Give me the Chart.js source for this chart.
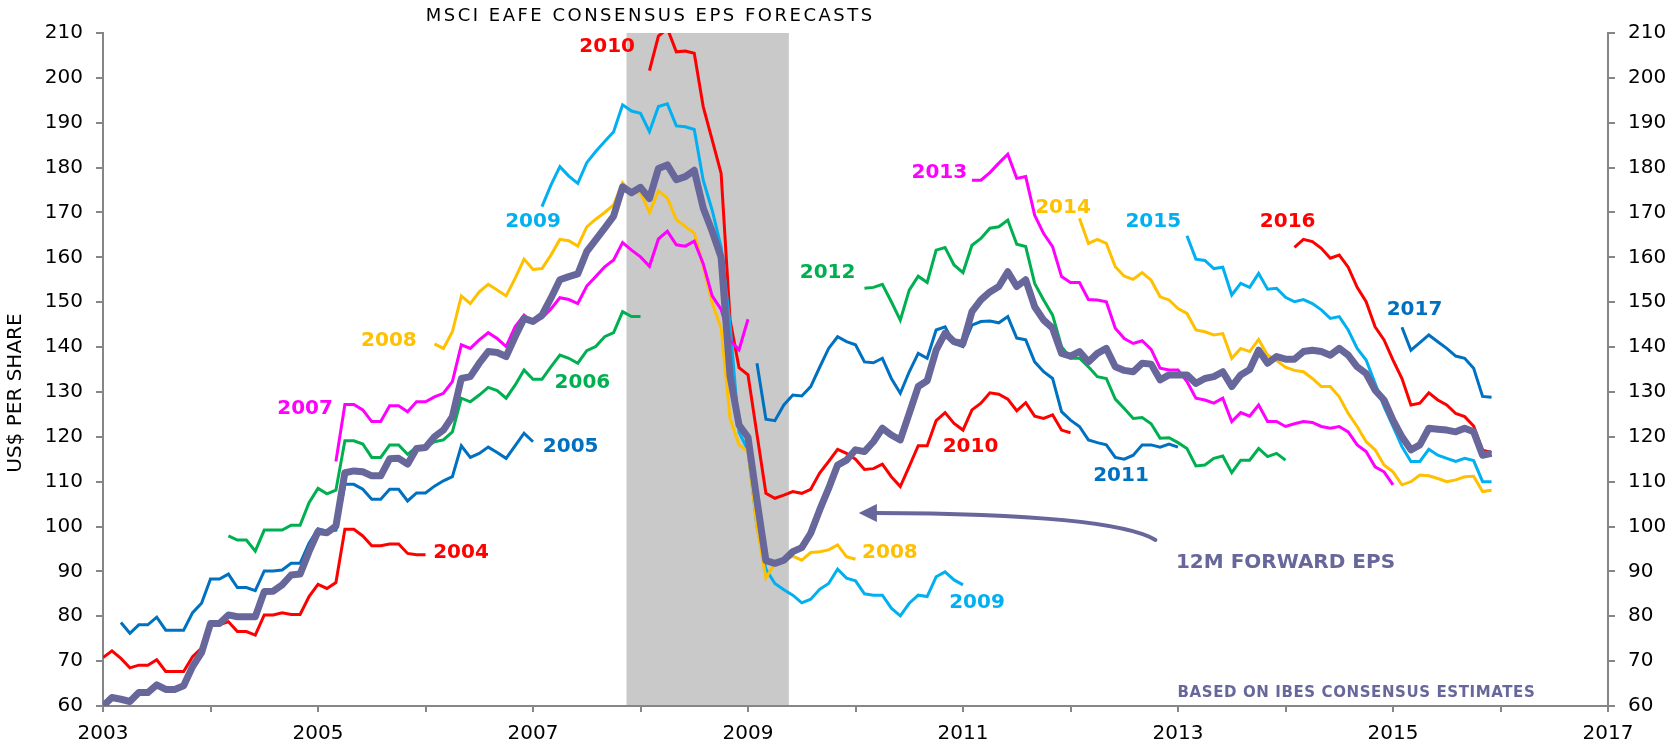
<!DOCTYPE html>
<html>
<head>
<meta charset="utf-8">
<script src="https://cdn.jsdelivr.net/npm/chart.js@4.4.0/dist/chart.umd.min.js"></script>
<style>
  body { margin: 0; background: #fff; }
  #wrap { width: 1675px; height: 747px; }
</style>
</head>
<body>
<div id="wrap"><canvas id="epsChart" width="1675" height="747"></canvas></div>
<script>
// monthly readings, each series starts at [year, month]
const fwdStart = [2003, 1];
const fwd12m = [
    60.0, 61.9, 61.5, 61.0, 63.0, 63.0, 64.7, 63.7, 63.7, 64.5, 68.8, 71.9,
    78.4, 78.4, 80.3, 79.9, 79.9, 79.9, 85.5, 85.6, 87.0, 89.2, 89.4, 94.4,
    98.9, 98.6, 100.1, 112.0, 112.4, 112.2, 111.3, 111.3, 115.1, 115.2, 113.9, 117.4,
    117.6, 120.0, 121.5, 124.5, 133.0, 133.4, 136.4, 139.0, 138.8, 137.9, 142.3, 146.4,
    145.7, 147.1, 150.9, 155.0, 155.7, 156.3, 161.3, 163.9, 166.5, 169.2, 175.7, 174.4,
    175.6, 173.1, 179.8, 180.6, 177.3, 178.0, 179.4, 171.0, 165.8, 160.0, 133.5, 122.6,
    119.9, 105.8, 92.4, 91.8, 92.5, 94.4, 95.3, 98.5, 103.7, 108.5, 113.7, 114.8,
    117.1, 116.7, 118.9, 121.9, 120.4, 119.3, 125.2, 131.2, 132.5, 139.3, 143.1, 141.2,
    140.8, 147.9, 150.5, 152.3, 153.5, 156.8, 153.5, 155.0, 149.0, 146.0, 144.2, 138.6,
    138.0, 139.0, 136.7, 138.6, 139.7, 135.6, 134.8, 134.5, 136.4, 136.2, 132.7, 133.8,
    133.8, 133.8, 131.9, 133.0, 133.4, 134.5, 131.2, 133.8, 135.0, 139.3, 136.4, 137.9,
    137.3, 137.3, 139.0, 139.3, 139.0, 138.2, 139.7, 138.2, 135.6, 134.1, 130.4, 128.2,
    123.7, 120.0, 117.1, 118.2, 121.9, 121.7, 121.5, 121.1, 121.9, 121.1, 115.9, 116.3
];

const fc2004Start = [2003, 1];
const fc2004 = [70.8, 72.3, 70.6, 68.5, 69.1, 69.1, 70.3, 67.7, 67.7, 67.7, 71.0, 72.9,
    78.1, 78.1, 78.8, 76.6, 76.6, 75.8, 80.3, 80.3, 80.8, 80.4, 80.4, 84.4,
    87.1, 86.2, 87.5, 99.4, 99.4, 97.9, 95.7, 95.7, 96.1, 96.1, 94.0, 93.7, 93.7];

const fc2005Start = [2003, 3];
const fc2005 = [78.6, 76.2, 78.1, 78.1, 79.8, 76.9, 76.9, 76.9, 80.8, 82.9,
    88.3, 88.3, 89.4, 86.4, 86.4, 85.7, 90.1, 90.1, 90.3, 91.8, 91.8, 96.3,
    99.5, 98.9, 99.2, 109.4, 109.4, 108.3, 106.1, 106.1, 108.3, 108.3, 105.7, 107.5,
    107.5, 109.0, 110.2, 111.1, 118.0, 115.4, 116.3, 117.7, 116.5, 115.2, 118.0, 120.8, 118.9];

const fc2006Start = [2004, 3];
const fc2006 = [97.9, 97.0, 97.0, 94.5, 99.2, 99.2, 99.2, 100.3, 100.3, 105.3,
    108.5, 107.3, 108.1, 119.1, 119.1, 118.4, 115.4, 115.4, 118.2, 118.2,
    116.1, 117.7, 117.7, 118.9, 119.3, 121.1, 128.6, 127.8, 129.3, 131.0,
    130.3, 128.6, 131.5, 134.9, 132.8, 132.8, 135.6, 138.2, 137.5, 136.4,
    139.2, 140.1, 142.3, 143.2, 147.9, 146.8, 146.8];

const fc2007Start = [2005, 3];
const fc2007 = [114.5, 127.2, 127.2, 126.0, 123.4, 123.4, 126.9, 126.9, 125.6, 127.8,
    127.8, 128.9, 129.7, 132.3, 140.5, 139.7, 141.6, 143.2, 141.9, 140.1,
    144.5, 147.1, 145.5, 146.5, 148.5, 151.0, 150.6, 149.7, 153.6, 155.7,
    157.9, 159.4, 163.3, 161.6, 160.1, 158.0, 164.1, 165.8, 162.8, 162.5,
    163.6, 158.6, 151.4, 148.4, 141.5, 139.4, 146.2];

const fc2008Start = [2006, 2];
const fc2008 = [140.7, 139.7, 143.4, 151.4, 149.7, 152.3, 154.0, 152.7, 151.4, 155.3,
    159.6, 157.3, 157.5, 160.5, 164.0, 163.7, 162.5, 166.8, 168.5, 170.0,
    171.7, 176.6, 174.4, 174.4, 170.0, 174.8, 173.2, 168.4, 166.9, 165.4,
    158.0, 149.8, 144.2, 124.1, 118.2, 116.7, 100.0, 88.5, 91.8, 92.5,
    93.4, 92.5, 94.2, 94.4, 94.8, 95.9, 93.3, 92.7];

const fc2009Start = [2007, 2];
const fc2009 = [171.3, 176.1, 180.2, 178.1, 176.5, 181.1, 183.6, 185.8, 188.0, 194.0,
    192.6, 192.1, 188.0, 193.6, 194.2, 189.3, 189.1, 188.5, 177.2, 170.5,
    162.3, 145.0, 121.0, 117.0, 100.0, 90.5, 87.3, 85.9, 84.7, 83.0,
    83.8, 86.0, 87.3, 90.5, 88.5, 87.9, 85.0, 84.7, 84.7, 81.8,
    80.1, 82.9, 84.7, 84.4, 88.8, 89.9, 88.1, 87.0];

const fc2010Start = [2008, 2];
const fc2010 = [201.6, 209.3, 211.0, 205.8, 206.0, 205.5, 193.6, 186.2, 178.7, 146.0,
    135.4, 133.8, 120.6, 107.4, 106.3, 107.0, 107.8, 107.4, 108.3, 111.9,
    114.5, 117.2, 116.3, 115.0, 112.7, 112.9, 113.9, 111.1, 108.9, 113.4,
    118.0, 118.0, 123.6, 125.4, 123.0, 121.5, 126.0, 127.5, 129.8, 129.5,
    128.4, 125.8, 127.6, 124.6, 124.1, 124.9, 121.5, 120.9];

const fc2011Start = [2009, 2];
const fc2011 = [136.4, 123.9, 123.6, 127.1, 129.3, 129.1, 131.2, 135.5, 139.7, 142.3,
    141.2, 140.5, 136.7, 136.5, 137.5, 133.0, 129.7, 134.5, 138.6, 137.5,
    143.8, 144.5, 140.8, 140.1, 144.9, 145.7, 145.8, 145.4, 146.8, 142.0,
    141.6, 136.7, 134.5, 133.0, 125.6, 123.7, 122.3, 119.3, 118.7, 118.2,
    115.4, 115.0, 115.9, 118.2, 118.2, 117.7, 118.4, 117.7];

const fc2012Start = [2010, 2];
const fc2012 = [153.1, 153.3, 154.0, 150.1, 146.0, 152.7, 155.8, 154.4, 161.6, 162.2,
    158.3, 156.6, 162.7, 164.2, 166.5, 166.8, 168.3, 162.9, 162.4, 154.2,
    150.5, 147.1, 140.1, 137.5, 137.5, 135.6, 133.4, 133.0, 128.4, 126.3,
    124.1, 124.3, 122.9, 119.7, 119.8, 118.7, 117.4, 113.5, 113.7, 115.2,
    115.7, 112.0, 114.8, 114.8, 117.4, 115.6, 116.3, 114.8];

const fc2013Start = [2011, 2];
const fc2013 = [177.2, 177.2, 178.9, 181.0, 183.0, 177.6, 178.0, 169.4, 165.3, 162.4,
    155.7, 154.4, 154.4, 150.6, 150.5, 150.1, 144.2, 141.9, 140.8, 141.4,
    139.5, 135.3, 134.9, 134.9, 132.3, 128.6, 128.2, 127.5, 128.6, 123.4,
    125.4, 124.6, 127.1, 123.4, 123.4, 122.3, 122.9, 123.4, 123.2, 122.3,
    121.9, 122.3, 121.1, 118.2, 116.7, 113.3, 112.2, 109.3];

const fc2014Start = [2012, 2];
const fc2014 = [168.7, 163.1, 164.0, 163.1, 157.9, 155.8, 155.1, 156.6, 154.9, 151.2,
    150.5, 148.6, 147.5, 143.8, 143.4, 142.7, 143.0, 137.5, 139.7, 139.0,
    141.7, 138.2, 137.0, 135.5, 134.8, 134.5, 133.0, 131.2, 131.2, 128.9,
    125.2, 122.3, 118.9, 117.1, 113.7, 112.2, 109.3, 110.0, 111.5, 111.3,
    110.7, 110.0, 110.4, 111.1, 111.2, 107.8, 108.1];

const fc2015Start = [2013, 2];
const fc2015 = [164.8, 159.6, 159.3, 157.5, 157.8, 151.6, 154.2, 153.3, 156.4, 152.9,
    153.1, 151.1, 150.1, 150.6, 149.7, 148.3, 146.4, 146.8, 143.8, 139.7,
    137.1, 131.9, 126.7, 122.3, 117.8, 114.5, 114.5, 117.2, 115.9, 115.2,
    114.5, 115.2, 114.7, 110.0, 110.0];

const fc2016Start = [2014, 2];
const fc2016 = [162.2, 164.0, 163.5, 162.0, 159.8, 160.5, 157.8, 153.3, 150.1, 144.5,
    141.6, 137.1, 133.0, 127.1, 127.5, 129.8, 128.2, 127.1, 125.2, 124.5,
    122.4, 117.0, 116.5];

const fc2017Start = [2015, 2];
const fc2017 = [144.4, 139.3, 141.0, 142.7, 141.2, 139.7, 138.0, 137.5, 135.3, 129.0, 128.8];

// recession shading (decimal years)
const recession = [2007.87, 2009.38];

const RED = '#FF0000';
const DBLUE = '#0070C0';
const GREEN = '#00B050';
const MAGENTA = '#FF00FF';
const YELLOW = '#FFC000';
const LBLUE = '#00B0F0';
const PURPLE = '#67679B';
const AXIS = '#868686';
const FONT = '"DejaVu Sans", Verdana, sans-serif';

// series labels: text, x (year), y (value), colour
const seriesLabels = [
    ['2010', 2007.69, 206.9, RED],
    ['2009', 2007.00, 167.9, LBLUE],
    ['2008', 2005.66, 141.4, YELLOW],
    ['2007', 2004.88, 126.2, MAGENTA],
    ['2006', 2007.46, 132.0, GREEN],
    ['2005', 2007.35, 117.7, DBLUE],
    ['2004', 2006.33, 94.1, RED],
    ['2012', 2009.74, 156.5, GREEN],
    ['2013', 2010.78, 178.8, MAGENTA],
    ['2014', 2011.93, 171.0, YELLOW],
    ['2015', 2012.77, 167.9, LBLUE],
    ['2016', 2014.02, 167.9, RED],
    ['2017', 2015.20, 148.3, DBLUE],
    ['2010', 2011.07, 117.7, RED],
    ['2011', 2012.47, 111.3, DBLUE],
    ['2008', 2010.32, 94.1, YELLOW],
    ['2009', 2011.13, 83.0, LBLUE]
];

function fromMonth(start, vals) {
    return vals.map((v, i) => ({ x: start[0] + (start[1] - 1 + i) / 12, y: v }));
}

function lineSet(label, start, vals, color, width) {
    return {
        label: label,
        data: fromMonth(start, vals),
        borderColor: color,
        backgroundColor: color,
        borderWidth: width,
        borderJoinStyle: width > 4 ? 'round' : 'miter',
        pointRadius: 0,
        tension: 0,
        fill: false
    };
}

const annotate = {
    id: 'annotate',
    beforeDatasetsDraw(chart) {
        const { ctx, chartArea: a, scales: { x } } = chart;
        const x0 = x.getPixelForValue(recession[0]);
        const x1 = x.getPixelForValue(recession[1]);
        ctx.save();
        ctx.fillStyle = '#C9C9C9';
        ctx.fillRect(x0, a.top, x1 - x0, a.bottom - a.top - 1);
        ctx.restore();
    },
    afterDraw(chart) {
        const { ctx, chartArea: a, scales: { x, y } } = chart;
        ctx.save();
        ctx.textAlign = 'center';
        ctx.textBaseline = 'middle';

        // title
        ctx.fillStyle = '#000';
        ctx.font = '18px ' + FONT;
        ctx.letterSpacing = '2.5px';
        ctx.fillText('MSCI EAFE CONSENSUS EPS FORECASTS', x.getPixelForValue(2008.09), a.top - 17);
        ctx.letterSpacing = '0px';

        // y axis title
        ctx.save();
        ctx.translate(16, a.top + (a.bottom - a.top) * 0.535);
        ctx.rotate(-Math.PI / 2);
        ctx.font = '20px ' + FONT;
        ctx.fillText('US$ PER SHARE', 0, 0);
        ctx.restore();

        // year labels
        ctx.font = 'bold 20px ' + FONT;
        seriesLabels.forEach(([t, lx, ly, c]) => {
            ctx.fillStyle = c;
            ctx.fillText(t, x.getPixelForValue(lx), y.getPixelForValue(ly));
        });

        // 12M forward callout
        ctx.fillStyle = PURPLE;
        ctx.font = 'bold 20px ' + FONT;
        ctx.fillText('12M FORWARD EPS', x.getPixelForValue(2014.0), y.getPixelForValue(91.9));
        ctx.font = 'bold 15px ' + FONT;
        ctx.letterSpacing = '0.6px';
        ctx.fillText('BASED ON IBES CONSENSUS ESTIMATES', x.getPixelForValue(2014.66), y.getPixelForValue(62.9));
        ctx.letterSpacing = '0px';

        // arrow
        const sx = x.getPixelForValue(2012.79), sy = y.getPixelForValue(97.0);
        const cx = x.getPixelForValue(2012.39), cy = y.getPixelForValue(102.8);
        const ex = x.getPixelForValue(2010.18), ey = y.getPixelForValue(103.0);
        const tx = x.getPixelForValue(2010.03);
        ctx.strokeStyle = PURPLE;
        ctx.lineWidth = 4;
        ctx.lineCap = 'round';
        ctx.beginPath();
        ctx.moveTo(sx, sy);
        ctx.quadraticCurveTo(cx, cy, ex, ey);
        ctx.stroke();
        ctx.beginPath();
        ctx.moveTo(tx, ey);
        ctx.lineTo(ex + 2, ey - 9);
        ctx.lineTo(ex + 2, ey + 9);
        ctx.closePath();
        ctx.fill();
        ctx.restore();
    }
};

const tickFont = { family: FONT, size: 20 };

const yAxis = (pos, w) => ({
    position: pos,
    min: 60,
    max: 210,
    afterFit: s => { s.width = w; },
    border: { color: AXIS, width: 2 },
    grid: { drawOnChartArea: false, color: AXIS, lineWidth: 2, tickLength: 7 },
    ticks: { stepSize: 10, padding: 13, color: '#000', font: tickFont }
});

let epsChart = new Chart(document.getElementById('epsChart'), {
    type: 'line',
    data: {
        datasets: [
            lineSet('12M forward EPS', fwdStart, fwd12m, PURPLE, 7),
            lineSet('2004', fc2004Start, fc2004, RED, 3),
            lineSet('2005', fc2005Start, fc2005, DBLUE, 3),
            lineSet('2006', fc2006Start, fc2006, GREEN, 3),
            lineSet('2007', fc2007Start, fc2007, MAGENTA, 3),
            lineSet('2008', fc2008Start, fc2008, YELLOW, 3),
            lineSet('2009', fc2009Start, fc2009, LBLUE, 3),
            lineSet('2010', fc2010Start, fc2010, RED, 3),
            lineSet('2011', fc2011Start, fc2011, DBLUE, 3),
            lineSet('2012', fc2012Start, fc2012, GREEN, 3),
            lineSet('2013', fc2013Start, fc2013, MAGENTA, 3),
            lineSet('2014', fc2014Start, fc2014, YELLOW, 3),
            lineSet('2015', fc2015Start, fc2015, LBLUE, 3),
            lineSet('2016', fc2016Start, fc2016, RED, 3),
            lineSet('2017', fc2017Start, fc2017, DBLUE, 3)
        ]
    },
    options: {
        responsive: false,
        animation: false,
        layout: { padding: { top: 33, left: 0, right: 0, bottom: 0 } },
        plugins: {
            legend: { display: false },
            tooltip: { enabled: false }
        },
        scales: {
            x: {
                type: 'linear',
                min: 2003,
                max: 2017,
                afterFit: s => { s.height = 41; },
                border: { color: AXIS, width: 2 },
                grid: { drawOnChartArea: false, color: AXIS, lineWidth: 2, tickLength: 6 },
                ticks: {
                    stepSize: 1,
                    autoSkip: false,
                    maxRotation: 0,
                    padding: 10,
                    color: '#000',
                    font: tickFont,
                    callback: v => (Math.round(v) % 2 === 1 ? String(Math.round(v)) : '')
                }
            },
            y: yAxis('left', 103),
            y2: yAxis('right', 67)
        }
    },
    plugins: [annotate]
});
</script>
</body>
</html>
